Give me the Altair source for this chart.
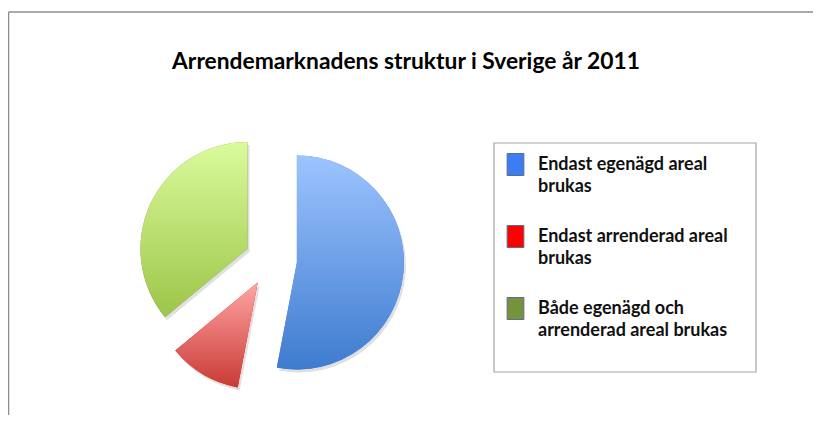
import math
import altair as alt
import pandas as pd

# ---- data ----
categories = [
    "Endast egenägd areal brukas",
    "Endast arrenderad areal brukas",
    "Både egenägd och arrenderad areal brukas",
]
values = [53, 11, 36]
legend_lines = [
    ["Endast egenägd areal", "brukas"],
    ["Endast arrenderad  areal", "brukas"],
    ["Både egenägd och", "arrenderad  areal brukas"],
]
legend_colors = ["#3C7DF2", "#FF0000", "#76923C"]
gradient_tops = ["#9DC4FF", "#FFA5A5", "#DBFB9C"]
gradient_bottoms = ["#3E7BCF", "#C93A35", "#9CC548"]
title_text = "Arrendemarknadens struktur i Sverige år 2011"

df = pd.DataFrame({"category": categories, "value": values, "order": list(range(len(categories)))})

# ---- layout ----
W, H = 795, 401
CX, CY = 253, 246
R = 107
EXPLODE = 26
TOTAL = sum(values)
FONT = "Lato"

theta = alt.Theta("start:Q", stack=None, scale=alt.Scale(domain=[0, TOTAL], range=[0, 2 * math.pi]))
theta2 = alt.Theta2("end:Q")
xenc = alt.X("px:Q", scale=None, axis=None)
yenc = alt.Y("py:Q", scale=None, axis=None)

label_expr = " : ".join(
    f"datum.label == {c!r} ? {lines!r}" for c, lines in zip(categories, legend_lines)
) + " : datum.label"

frame_data = alt.Data(values=[{"a": 1}])

frame_top = alt.Chart(frame_data).mark_rule(color="#8C8C8C", strokeWidth=1.5).encode(
    x=alt.value(-9.5), x2=alt.value(W), y=alt.value(-2)
)
frame_left = alt.Chart(frame_data).mark_rule(color="#8C8C8C", strokeWidth=1.5).encode(
    x=alt.value(-9.5), y=alt.value(-2), y2=alt.value(H)
)
legend_box = alt.Chart(frame_data).mark_rect(fill="white", stroke="#A6A6A6", strokeWidth=1.2).encode(
    x=alt.value(476), x2=alt.value(738), y=alt.value(129), y2=alt.value(358)
)

base = (
    alt.Chart(df)
    .transform_window(end="sum(value)", sort=[alt.SortField("order")], frame=[None, 0])
    .transform_calculate(start="datum.end - datum.value")
    .transform_calculate(mid=f"(datum.end - datum.value / 2) / {TOTAL} * 2 * PI")
    .transform_calculate(px=f"{CX} + {EXPLODE} * sin(datum.mid)")
    .transform_calculate(py=f"{CY} - {EXPLODE} * cos(datum.mid)")
)

shadow = base.mark_arc(outerRadius=R, color="black", opacity=0.12, xOffset=2, yOffset=3).encode(
    theta=theta, theta2=theta2, x=xenc, y=yenc
)

solid = base.mark_arc(outerRadius=R).encode(
    theta=theta, theta2=theta2, x=xenc, y=yenc,
    color=alt.Color(
        "category:N",
        scale=alt.Scale(domain=categories, range=legend_colors),
        legend=alt.Legend(
            title=None,
            orient="none",
            legendX=486,
            legendY=139,
            padding=0,
            symbolType="M-0.76,-1H0.76V1H-0.76Z",
            symbolSize=484,
            symbolStrokeColor="#5A6E8C",
            symbolStrokeWidth=1,
            symbolOpacity=1,
            labelFont=FONT,
            labelFontSize=18,
            labelFontWeight="bold",
            labelColor="#111111",
            labelOffset=11,
            labelLimit=400,
            rowPadding=27,
            labelExpr=label_expr,
        ),
    ),
)

grad_layers = []
for cat, top, bot in zip(categories, gradient_tops, gradient_bottoms):
    grad = alt.LinearGradient(
        gradient="linear",
        stops=[alt.GradientStop(color=top, offset=0), alt.GradientStop(color=bot, offset=1)],
        x1=0, x2=0, y1=0, y2=1,
    )
    grad_layers.append(
        base.mark_arc(outerRadius=R, fill=grad).encode(
            theta=theta, theta2=theta2, x=xenc, y=yenc
        ).transform_filter(alt.datum.category == cat)
    )

chart = (
    alt.layer(frame_top, frame_left, legend_box, shadow, solid, *grad_layers)
    .properties(
        width=W,
        height=H,
        autosize=alt.AutoSizeParams(type="none"),
        padding={"left": 10, "top": 6, "right": 0, "bottom": 0},
        title=alt.TitleParams(
            text=title_text,
            font=FONT,
            fontSize=22.8,
            fontWeight="bold",
            color="#000000",
            anchor="middle",
            baseline="alphabetic",
            dx=-9.5,
            dy=85,
        ),
    )
    .configure(style={"guide-label": {"lineHeight": 22}})
    .configure_view(stroke=None)
)

chart.save("out.html", embed_options={"renderer": "svg", "actions": False})
